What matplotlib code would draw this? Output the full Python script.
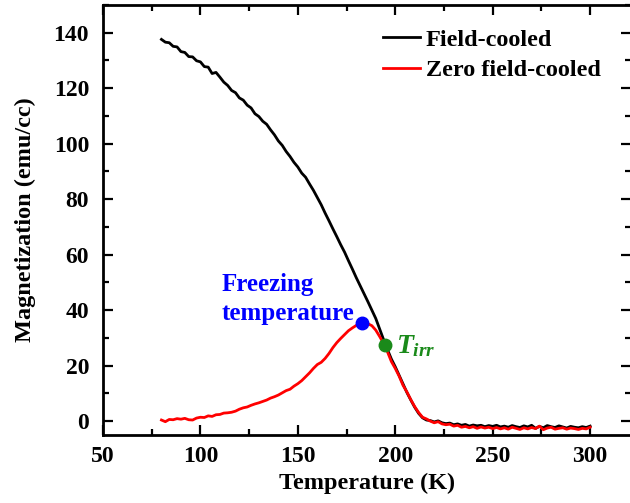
import numpy as np
import matplotlib
matplotlib.use('Agg')
import matplotlib.pyplot as plt
from matplotlib.ticker import MultipleLocator

plt.rcParams['font.family'] = ['Liberation Serif', 'DejaVu Serif']
plt.rcParams['font.weight'] = 'bold'
plt.rcParams['mathtext.fontset'] = 'custom'
plt.rcParams['mathtext.it'] = 'Liberation Serif:italic:bold'
plt.rcParams['mathtext.rm'] = 'Liberation Serif:bold'

# temperature grid (K), 2 K steps from 80 to 300
temperatura = np.arange(80, 301, 2)

# field-cooled magnetization (emu/cc)
fc = [137.6, 136.6, 136.4, 135.1, 134.9, 133.2, 132.9, 131.4, 131.3, 129.9,
      129.5, 127.8, 127.6, 125.3, 125.7, 124.0, 122.2, 121.0, 119.2, 118.4,
      116.5, 115.7, 113.9, 112.9, 110.8, 109.8, 108.1, 107.0, 105.0, 103.2,
      101.0, 99.4, 97.2, 95.4, 93.3, 91.6, 89.4, 87.9, 85.5, 83.2,
      80.6, 78.0, 75.0, 72.2, 69.3, 66.5, 63.6, 60.9, 57.8, 54.8,
      51.7, 48.8, 45.9, 43.0, 40.0, 37.0, 33.2, 29.4, 25.8, 22.4,
      19.6, 16.5, 13.4, 10.3, 7.6, 5.0, 2.8, 1.2, 0.4, 0.2,
      -0.3, 0.1, -0.6, -0.9, -0.7, -1.3, -1.0, -1.5, -1.2, -1.8,
      -1.4, -1.7, -1.5, -2.0, -1.6, -1.9, -1.5, -2.1, -1.8, -2.2,
      -1.6, -2.0, -2.3, -1.7, -2.1, -1.5, -2.6, -1.9, -2.4, -1.6,
      -2.0, -2.3, -1.7, -2.1, -2.5, -1.9, -2.2, -2.4, -2.0, -2.3,
      -1.8]

# zero field-cooled magnetization (emu/cc)
zfc = [0.4, -0.2, 0.6, 0.5, 0.9, 0.7, 1.0, 0.5, 0.4, 1.1,
       1.4, 1.3, 1.9, 1.7, 2.3, 2.4, 2.9, 3.0, 3.2, 3.6,
       4.3, 4.8, 5.1, 5.7, 6.2, 6.6, 7.1, 7.6, 8.3, 8.8,
       9.4, 10.2, 11.0, 11.5, 12.6, 13.5, 14.6, 16.0, 17.4, 19.0,
       20.4, 21.2, 22.6, 24.4, 26.5, 28.3, 29.8, 31.2, 32.6, 33.6,
       34.5, 35.2, 35.5, 35.1, 34.4, 32.8, 30.5, 28.0, 25.0, 21.5,
       19.0, 16.2, 12.9, 10.5, 7.7, 5.2, 3.1, 1.4, 0.8, 0.0,
       -0.6, -0.2, -1.0, -1.3, -1.1, -1.8, -1.5, -2.2, -1.9, -2.4,
       -2.0, -2.6, -2.1, -2.5, -2.2, -2.7, -2.3, -2.8, -2.4, -2.9,
       -2.2, -2.6, -3.0, -2.4, -2.8, -2.3, -2.7, -1.8, -3.1, -2.5,
       -2.2, -2.9, -2.6, -2.4, -2.9, -2.5, -2.7, -3.0, -2.6, -2.8,
       -2.2]

# marked points
t_freezing, m_freezing = 182.8, 35.5
t_irr, m_irr = 194.6, 27.5

fig = plt.figure(figsize=(6.3, 5.03), dpi=100)
ax = fig.add_axes([103 / 630, 68 / 503, 528 / 630, 430 / 503])

ax.plot(temperatura, fc, color='black', lw=2.0, label='Field-cooled')
ax.plot(temperatura, zfc, color='red', lw=2.0, label='Zero field-cooled')
ax.plot(t_freezing, m_freezing, 'o', color='#0000ff', ms=9, zorder=5)
ax.plot(t_irr, m_irr, 'o', color='#1a8a1a', ms=9, zorder=5)

ax.text(111, 44.0, 'Freezing\ntemperature', color='#0000ff', fontsize=18,
        fontweight='bold', ha='left', va='center', linespacing=1.35)
ax.text(200.5, 27, r'$T_{irr}$', color='#1a8a1a', fontsize=20,
        ha='left', va='center')

ax.set_xlim(50, 321)
ax.set_ylim(-5, 150)
ax.xaxis.set_major_locator(MultipleLocator(50))
ax.xaxis.set_minor_locator(MultipleLocator(25))
ax.yaxis.set_major_locator(MultipleLocator(20))
ax.yaxis.set_minor_locator(MultipleLocator(10))
ax.tick_params(which='both', direction='in', top=True, right=True, width=1.6,
               labelsize=17)
ax.tick_params(which='major', length=7)
ax.tick_params(which='minor', length=4)
ax.tick_params(axis='x', pad=8)
ax.tick_params(axis='y', pad=10)
for s in ax.spines.values():
    s.set_linewidth(2.0)

ax.set_xlabel('Temperature (K)', fontsize=17.5, fontweight='bold', labelpad=4)
ax.set_ylabel('Magnetization (emu/cc)', fontsize=17.5, fontweight='bold', labelpad=13)

ax.legend(loc='upper left', bbox_to_anchor=(0.531, 0.945), frameon=False,
          fontsize=17.5, handlelength=1.5, handletextpad=0.25, borderpad=0,
          borderaxespad=0, labelspacing=0.35)

plt.savefig('out.png', dpi=100)
